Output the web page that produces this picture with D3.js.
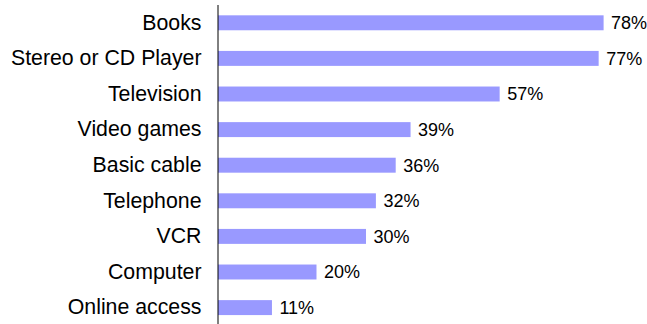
<!DOCTYPE html>
<html>
<head>
<meta charset="utf-8">
<script src="https://cdn.jsdelivr.net/npm/d3@7"></script>
<style>
  html, body { margin: 0; padding: 0; background: #fff; }
  svg { display: block; }
</style>
</head>
<body>
<svg id="chart" width="647" height="324"></svg>
<script>
// Share of households owning each item
const categories = ["Books", "Stereo or CD Player", "Television", "Video games", "Basic cable",
                    "Telephone", "VCR", "Computer", "Online access"];
const values = [78, 77, 57, 39, 36, 32, 30, 20, 11];
const valueLabels = ["78%", "77%", "57%", "39%", "36%", "32%", "30%", "20%", "11%"];

const svg = d3.select("#chart");
const axisX = 217.5;

const x = d3.scaleLinear().domain([0, 100]).range([axisX, axisX + 495]);
const y = d3.scaleBand().domain(categories).range([5, 325.4])
  .paddingInner(0.58).paddingOuter(0.29);

const font = "'Liberation Sans', Arial, sans-serif";

// Bars
svg.append("g").selectAll("rect")
  .data(categories)
  .join("rect")
  .attr("x", x(0) + 0.5)
  .attr("y", d => y(d))
  .attr("width", (d, i) => x(values[i]) - x(0) - 0.5)
  .attr("height", y.bandwidth())
  .attr("fill", "#9999ff");

// Value labels at the end of each bar
svg.append("g").selectAll("text")
  .data(categories)
  .join("text")
  .attr("x", (d, i) => x(values[i]) + 7.5)
  .attr("y", d => y(d) + y.bandwidth() / 2)
  .attr("dy", "0.36em")
  .attr("font-family", font)
  .attr("font-size", 18)
  .attr("fill", "#000")
  .text((d, i) => valueLabels[i]);

// Category axis
const axis = svg.append("g")
  .attr("transform", `translate(${axisX},0)`)
  .call(d3.axisLeft(y).tickSize(0).tickPadding(16));
axis.select(".domain").attr("stroke", "#000").attr("stroke-width", 1)
  .attr("d", `M0.5,5V324`);
axis.selectAll("text")
  .attr("font-family", font)
  .attr("font-size", 21.3)
  .attr("fill", "#000");
</script>
</body>
</html>
